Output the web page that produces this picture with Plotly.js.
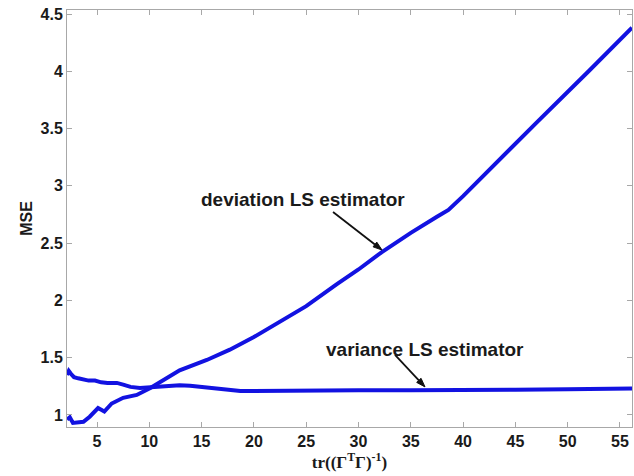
<!DOCTYPE html>
<html>
<head>
<meta charset="utf-8">
<script src="https://cdn.plot.ly/plotly-3.0.1.min.js"></script>
<style>html,body{margin:0;padding:0;background:#fff;}#chart{width:634px;height:476px;}</style>
</head>
<body>
<div id="chart"></div>
<script>
// Variance LS estimator curve
var varianceX = [2.13, 2.3, 2.5, 2.8, 3.2, 3.7, 4.2, 4.8, 5.4, 6.0, 6.9, 7.5, 8.2, 9.1, 10.1, 11.0, 12.0, 12.9, 13.9, 15.0, 16.1, 17.4, 18.7, 20, 25, 30, 35, 40, 45, 50, 56.15];
var varianceY = [1.35, 1.385, 1.36, 1.33, 1.32, 1.31, 1.30, 1.30, 1.285, 1.28, 1.28, 1.265, 1.245, 1.235, 1.24, 1.245, 1.255, 1.26, 1.255, 1.245, 1.23, 1.215, 1.21, 1.21, 1.215, 1.215, 1.215, 1.215, 1.22, 1.225, 1.23];

// Deviation LS estimator curve
var deviationX = [2.13, 2.4, 2.7, 3.1, 3.7, 4.3, 5.1, 5.7, 6.4, 7.5, 8.8, 10.1, 11.3, 12.9, 15.5, 17.7, 20, 22.5, 25, 27.9, 30, 32.2, 35, 37.5, 38.6, 40, 42.6, 47, 52, 56.15];
var deviationY = [0.96, 0.98, 0.93, 0.935, 0.94, 0.985, 1.06, 1.03, 1.10, 1.15, 1.175, 1.235, 1.30, 1.39, 1.48, 1.57, 1.68, 1.815, 1.95, 2.14, 2.27, 2.42, 2.59, 2.73, 2.79, 2.91, 3.15, 3.55, 4.00, 4.38];

var xTicks = [5, 10, 15, 20, 25, 30, 35, 40, 45, 50, 55];
var yTicks = [1, 1.5, 2, 2.5, 3, 3.5, 4, 4.5];
var yTickLabels = ["1", "1.5", "2", "2.5", "3", "3.5", "4", "4.5"];

var labelDeviation = "deviation LS estimator";
var labelVariance = "variance LS estimator";

var lineColor = "rgb(18,18,225)";
var axisGray = "#a8a8a8";
var boldFont = "Liberation Sans, Arial, sans-serif";

var traces = [
  {x: deviationX, y: deviationY, type: "scatter", mode: "lines",
   line: {color: lineColor, width: 4}, hoverinfo: "skip"},
  {x: varianceX, y: varianceY, type: "scatter", mode: "lines",
   line: {color: lineColor, width: 4}, hoverinfo: "skip"}
];

// arrow pointers drawn as pixel-sized shapes anchored at the curve points
function arrowShapes(ax, ay, tx, ty) {
  // tx, ty: tail offset in pixels (y up) relative to the anchor tip
  var len = Math.sqrt(tx * tx + ty * ty);
  var ux = -tx / len, uy = -ty / len;
  var hl = 9, hw = 3;
  var bx = -hl * ux, by = -hl * uy;
  var px = -uy * hw, py = ux * hw;
  var common = {type: "path", xref: "x", yref: "y", xsizemode: "pixel", ysizemode: "pixel",
                xanchor: ax, yanchor: ay};
  return [
    Object.assign({}, common, {path: "M " + tx + " " + ty + " L " + bx + " " + by,
                               line: {color: "#111", width: 1.8}}),
    Object.assign({}, common, {path: "M 0 0 L " + (bx + px) + " " + (by + py) + " L " + (bx - px) + " " + (by - py) + " Z",
                               fillcolor: "#111", line: {color: "#111", width: 1}})
  ];
}

var shapes = [].concat(arrowShapes(32.25, 2.44, -49, 38), arrowShapes(36.36, 1.245, -30, 32));

var layout = {
  width: 634, height: 476,
  margin: {l: 67, r: 2, t: 10, b: 49},
  paper_bgcolor: "#fff", plot_bgcolor: "#fff",
  showlegend: false,
  font: {family: boldFont, color: "#1a1a1a", weight: "bold"},
  xaxis: {
    range: [2.13, 56.15], tickvals: xTicks, ticktext: xTicks.map(String),
    ticks: "inside", ticklen: 5, tickcolor: axisGray, showgrid: false, zeroline: false,
    showline: true, linecolor: axisGray, linewidth: 1, mirror: "ticks",
    tickfont: {size: 16, family: boldFont, weight: "bold", color: "#1a1a1a"},
    title: {text: "tr((Γ<sup>T</sup>Γ)<sup>-1</sup>)", standoff: 1,
            font: {size: 17, family: "Liberation Serif, Times New Roman, serif", weight: "bold", color: "#1a1a1a"}}
  },
  yaxis: {
    range: [0.895, 4.535], tickvals: yTicks, ticktext: yTickLabels,
    ticks: "inside", ticklen: 5, tickcolor: axisGray, showgrid: false, zeroline: false,
    showline: true, linecolor: axisGray, linewidth: 1, mirror: "ticks",
    tickfont: {size: 16, family: boldFont, weight: "bold", color: "#1a1a1a"},
    title: {text: "MSE", standoff: 3, font: {size: 16, family: boldFont, weight: "bold", color: "#1a1a1a"}}
  },
  shapes: shapes,
  annotations: [
    {x: 24.7, y: 2.877, xref: "x", yref: "y", text: labelDeviation, showarrow: false,
     font: {size: 19, family: boldFont, weight: "bold", color: "#1a1a1a"}},
    {x: 36.36, y: 1.568, xref: "x", yref: "y", text: labelVariance, showarrow: false,
     font: {size: 19, family: boldFont, weight: "bold", color: "#1a1a1a"}}
  ]
};

Plotly.newPlot("chart", traces, layout, {staticPlot: true, displayModeBar: false});
</script>
</body>
</html>
